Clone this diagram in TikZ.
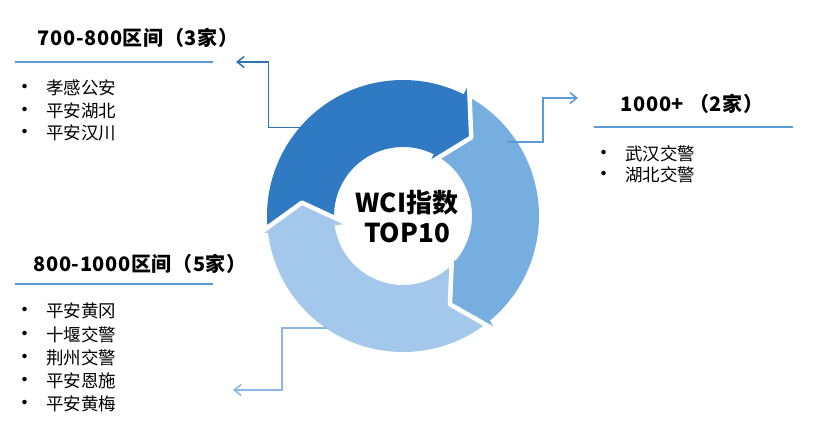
\documentclass[tikz,border=0pt]{standalone}
\usepackage{fontspec}
\setmainfont{Noto Sans CJK SC}
\usetikzlibrary{arrows.meta}
\definecolor{cdark}{HTML}{2F7AC2}
\definecolor{cmid}{HTML}{76AEE0}
\definecolor{clight}{HTML}{A3C8EB}
\definecolor{cline}{HTML}{5B9BD5}
\definecolor{cone}{HTML}{2E75B6}
\definecolor{cthree}{HTML}{8AB7E3}
\newcommand{\bul}{\makebox[32pt][l]{\fontsize{21}{21}\selectfont •}}
\begin{document}
\begin{tikzpicture}[x=1pt,y=-1pt,
  ttl/.style={font=\fontsize{20}{20}\selectfont\bfseries\addfontfeature{LetterSpace=3}, inner sep=0, anchor=base},
  itm/.style={font=\fontsize{17.5}{17.5}\selectfont, inner sep=0, anchor=base west},
  ctext/.style={font=\fontsize{26}{26}\selectfont\bfseries, inner sep=0, anchor=base},
  uline/.style={cline, line width=2pt},
  conn/.style={line width=1.5pt, -{Straight Barb[length=7pt,width=11pt]}},
  ahead/.style={draw=white, line width=4.5pt, line join=round}]
\useasboundingbox (0,0) rectangle (830,434);
\fill[white] (0,0) rectangle (830,434);

% ring
\begin{scope}[shift={(403,216)}, y=1pt]
  % bodies
  \fill[cdark] (186:136) arc[start angle=186, end angle=62, radius=136]
     -- (62:69) arc[start angle=62, end angle=186, radius=69] -- cycle;
  \fill[cmid] (62:136) arc[start angle=62, end angle=-51.8, radius=136]
     -- (-42.3:69) arc[start angle=-42.3, end angle=62, radius=69] -- cycle;
  \fill[clight] (-51.8:136) arc[start angle=-51.8, end angle=-174, radius=136]
     -- (-174:69) arc[start angle=-174, end angle=-42.3, radius=69] -- cycle;
  % heads
  \filldraw[fill=cdark, ahead] (63.5:148) -- (49:104) -- (63.5:59);
  \filldraw[fill=cmid, ahead] (-51:147) -- (-62:100) -- (-39:63);
  \filldraw[fill=clight, ahead] (187:145) -- (172.5:102) -- (188:56);
  % connector starts
  \coordinate (c1s) at (139.5:136);
  \coordinate (c2s) at (35.4:127.6);
  \coordinate (c3s) at (235.8:135.4);
\end{scope}

% centre text
\node[ctext] (cw) at (407,212.5) {WCI指数};
\node[ctext] (ct) at (407,242.5) {TOP10};

% titles and rules
\node[ttl] (t1) at (138,45.7) {700-800区间（3家）};
\draw[uline] (15,62) -- (213,62);
\node[ttl] (t2) at (692,111.7) {1000+ （2家）};
\draw[uline] (594,127) -- (793,127);
\node[ttl] (t3) at (140,271) {800-1000区间（5家）};
\draw[uline] (15,284) -- (213,284);

% lists
\node[itm] (a1) at (14,94.6) {\bul 孝感公安};
\node[itm] (a2) at (14,117.6) {\bul 平安湖北};
\node[itm] (a3) at (14,139.6) {\bul 平安汉川};

\node[itm] (b1) at (593,160.6) {\bul 武汉交警};
\node[itm] (b2) at (593,181.6) {\bul 湖北交警};

\node[itm] (d1) at (14,317.6) {\bul 平安黄冈};
\node[itm] (d2) at (14,341) {\bul 十堰交警};
\node[itm] (d3) at (14,364.2) {\bul 荆州交警};
\node[itm] (d4) at (14,387) {\bul 平安恩施};
\node[itm] (d5) at (14,410) {\bul 平安黄梅};

% connectors
\coordinate (c1e) at (236,62);
\coordinate (c2e) at (578,98);
\coordinate (c3e) at (233,390);
\draw[conn, cone] (c1s) -- ++(-31,0) |- (c1e);
\draw[conn, cline] (c2s) -- ++(36,0) |- (c2e);
\draw[conn, cthree] (c3s) -- ++(-45,0) |- (c3e);
\end{tikzpicture}
\end{document}
